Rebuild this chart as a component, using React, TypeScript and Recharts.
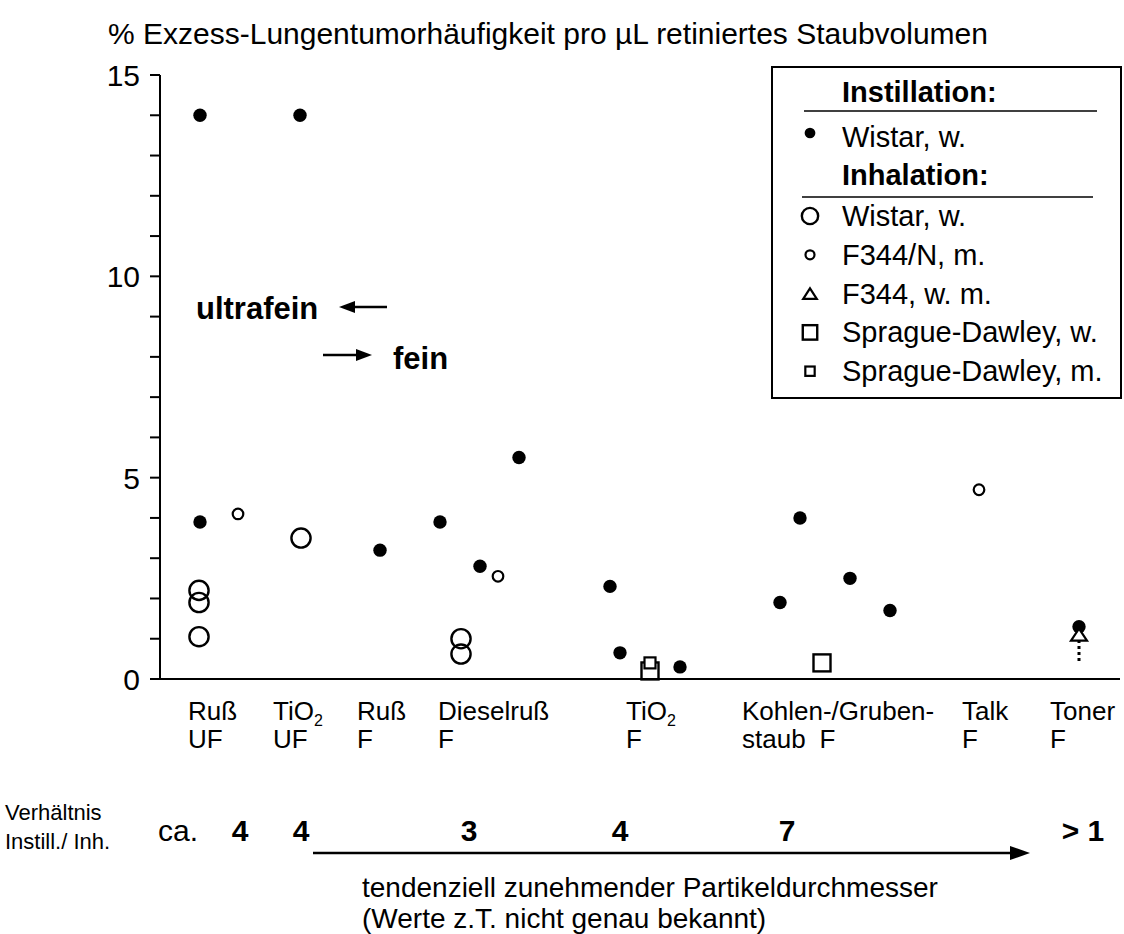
import React from "react";
import { ScatterChart, Scatter, XAxis, YAxis, ReferenceDot, ReferenceLine, Legend } from "recharts";

const FONT = '"Liberation Sans", Arial, Helvetica, sans-serif';

// x = position along the (unscaled) particle-size axis, 0..96
// y = % Exzess-Lungentumorhäufigkeit pro µL
const instillWistar = [
  { x: 4, y: 14 }, { x: 14, y: 14 }, { x: 4, y: 3.9 }, { x: 22, y: 3.2 }, { x: 28, y: 3.9 },
  { x: 32, y: 2.8 }, { x: 35.9, y: 5.5 }, { x: 45, y: 2.3 }, { x: 46, y: 0.65 }, { x: 52, y: 0.3 },
  { x: 62, y: 1.9 }, { x: 64, y: 4.0 }, { x: 69, y: 2.5 }, { x: 73, y: 1.7 }, { x: 91.9, y: 1.3 },
];
const inhalWistar = [
  { x: 3.9, y: 2.2 }, { x: 3.9, y: 1.9 }, { x: 3.9, y: 1.05 }, { x: 14.1, y: 3.5 },
  { x: 30.1, y: 1.0 }, { x: 30.1, y: 0.62 },
];
const inhalF344N = [{ x: 7.8, y: 4.1 }, { x: 33.8, y: 2.55 }, { x: 81.9, y: 4.7 }];
const inhalF344 = [{ x: 91.9, y: 1.1 }];
const sdFemale = [{ x: 49, y: 0.2 }, { x: 66.2, y: 0.4 }];
const sdMale = [{ x: 49, y: 0.4 }];

// lower-bound marker under the toner triangle
const tonerArrow = { x: 91.9, from: 0.45, to: 0.98 };

const Y_TICKS = [0, 1, 2, 3, 4, 5, 6, 7, 8, 9, 10, 11, 12, 13, 14, 15];

const categories = [
  { x: 2.8, l1: "Ruß", sub: "", l2: "UF" },
  { x: 11.3, l1: "TiO", sub: "2", l2: "UF" },
  { x: 19.7, l1: "Ruß", sub: "", l2: "F" },
  { x: 27.8, l1: "Dieselruß", sub: "", l2: "F" },
  { x: 46.6, l1: "TiO", sub: "2", l2: "F" },
  { x: 58.2, l1: "Kohlen-/Gruben-", sub: "", l2: "staub|F" },
  { x: 80.2, l1: "Talk", sub: "", l2: "F" },
  { x: 89.0, l1: "Toner", sub: "", l2: "F" },
];

const ratios = [
  { x: 8.0, v: "4", prefix: "ca." },
  { x: 14.1, v: "4", prefix: "" },
  { x: 30.9, v: "3", prefix: "" },
  { x: 46.0, v: "4", prefix: "" },
  { x: 62.7, v: "7", prefix: "" },
  { x: 92.3, v: "> 1", prefix: "" },
];

const legendRows = [
  { label: "Wistar, w.", icon: "bigRing" },
  { label: "F344/N, m.", icon: "smallRing" },
  { label: "F344, w. m.", icon: "triangle" },
  { label: "Sprague-Dawley, w.", icon: "bigSquare" },
  { label: "Sprague-Dawley, m.", icon: "smallSquare" },
];

function icon(kind: string, cx: number, cy: number, s = 1) {
  switch (kind) {
    case "dot":
      return <circle cx={cx} cy={cy} r={6.7 * s} fill="#000" />;
    case "bigRing":
      return <circle cx={cx} cy={cy} r={9.6 * s} fill="none" stroke="#000" strokeWidth={2.4} />;
    case "smallRing":
      return <circle cx={cx} cy={cy} r={5.3 * s} fill="none" stroke="#000" strokeWidth={2.2} />;
    case "triangle": {
      const w = 8 * s, h = 10 * s;
      return (
        <polygon
          points={`${cx},${cy - h / 2 - 1} ${cx + w},${cy + h / 2 + 1} ${cx - w},${cy + h / 2 + 1}`}
          fill="#fff" stroke="#000" strokeWidth={2.2} strokeLinejoin="miter"
        />
      );
    }
    case "bigSquare":
      return <rect x={cx - 8.5 * s} y={cy - 8.5 * s} width={17 * s} height={17 * s} fill="none" stroke="#000" strokeWidth={2.4} />;
    case "smallSquare":
      return <rect x={cx - 5.5 * s} y={cy - 5.5 * s} width={11 * s} height={11 * s} fill="#fff" stroke="#000" strokeWidth={2.2} />;
    default:
      return null;
  }
}

const shapeOf = (kind: string) => (p: any) => <g>{icon(kind, p.cx, p.cy)}</g>;

const YTick = ({ x, y, payload }: any) =>
  payload.value % 5 === 0 ? (
    <text x={x} y={y} dy={11} textAnchor="end" fontSize={30} fontFamily={FONT} fill="#000">
      {payload.value}
    </text>
  ) : (
    <g />
  );

const CategoryLabel = (c: (typeof categories)[number]) => (p: any) => {
  const [a, b] = c.l2.split("|");
  return (
    <g fontFamily={FONT} fontSize={26} fill="#000">
      <text x={p.cx} y={p.cy + 41}>
        {c.l1}
        {c.sub ? (
          <tspan fontSize={16} dy={6}>
            {c.sub}
          </tspan>
        ) : null}
      </text>
      <text x={p.cx} y={p.cy + 69}>
        {a}
        {b ? <tspan dx={14}>{b}</tspan> : null}
      </text>
    </g>
  );
};

const RatioLabel = (r: (typeof ratios)[number]) => (p: any) => (
  <g fontFamily={FONT} fill="#000">
    {r.prefix ? (
      <text x={p.cx - 42} y={p.cy + 162} textAnchor="end" fontSize={30}>
        {r.prefix}
      </text>
    ) : null}
    <text x={p.cx} y={p.cy + 162} textAnchor="middle" fontSize={30} fontWeight="bold">
      {r.v}
    </text>
  </g>
);

const LegendBox = () => (
  <svg width={351} height={333} style={{ display: "block", fontFamily: FONT }}>
    <rect x={1} y={1} width={349} height={331} fill="#fff" stroke="#000" strokeWidth={2} />
    <text x={71} y={36} fontSize={29} fontWeight="bold">Instillation:</text>
    <line x1={33} x2={326} y1={45} y2={45} stroke="#000" strokeWidth={1.6} />
    {icon("dot", 39, 67, 0.8)}
    <text x={71} y={81} fontSize={29}>Wistar, w.</text>
    <text x={71} y={119} fontSize={29} fontWeight="bold">Inhalation:</text>
    <line x1={31} x2={322} y1={131} y2={131} stroke="#000" strokeWidth={1.6} />
    {legendRows.map((r, i) => (
      <g key={r.label}>
        {icon(r.icon, 39, 150 + i * 38.8, 0.85)}
        <text x={71} y={160 + i * 38.8} fontSize={29}>
          {r.label}
        </text>
      </g>
    ))}
  </svg>
);

export default function App() {
  return (
    <div style={{ position: "absolute", left: 0, top: 0, width: 1124, height: 934, background: "#fff" }}>
      <ScatterChart width={1124} height={934} margin={{ top: 75, right: 4, bottom: 195, left: 100 }}>
        <XAxis
          type="number"
          dataKey="x"
          domain={[0, 96]}
          tick={false}
          tickLine={false}
          axisLine={{ stroke: "#000", strokeWidth: 2 }}
          height={60}
        />
        <YAxis
          type="number"
          dataKey="y"
          domain={[0, 15]}
          ticks={Y_TICKS}
          interval={0}
          tick={YTick}
          tickSize={10}
          tickMargin={10}
          tickLine={{ stroke: "#000", strokeWidth: 2 }}
          axisLine={{ stroke: "#000", strokeWidth: 2 }}
          width={60}
        />
        <ReferenceLine
          segment={[{ x: tonerArrow.x, y: tonerArrow.from }, { x: tonerArrow.x, y: tonerArrow.to }]}
          stroke="#000"
          strokeWidth={3}
          strokeDasharray="3 3"
        />
        <Scatter data={instillWistar} shape={shapeOf("dot")} isAnimationActive={false} />
        <Scatter data={inhalWistar} shape={shapeOf("bigRing")} isAnimationActive={false} />
        <Scatter data={inhalF344N} shape={shapeOf("smallRing")} isAnimationActive={false} />
        <Scatter data={inhalF344} shape={shapeOf("triangle")} isAnimationActive={false} />
        <Scatter data={sdFemale} shape={shapeOf("bigSquare")} isAnimationActive={false} />
        <Scatter data={sdMale} shape={shapeOf("smallSquare")} isAnimationActive={false} />
        {categories.map((c) => (
          <ReferenceDot key={"c" + c.x} x={c.x} y={0} r={0} ifOverflow="visible" shape={CategoryLabel(c)} />
        ))}
        {ratios.map((r) => (
          <ReferenceDot key={"r" + r.x} x={r.x} y={0} r={0} ifOverflow="visible" shape={RatioLabel(r)} />
        ))}
        <Legend
          layout="vertical"
          align="center"
          verticalAlign="middle"
          content={() => <LegendBox />}
          wrapperStyle={{ position: "absolute", left: 771, top: 66, width: 351, height: 333 }}
        />
      </ScatterChart>
      <svg
        width={1124}
        height={934}
        style={{ position: "absolute", left: 0, top: 0, pointerEvents: "none", fontFamily: FONT }}
      >
        <text x={108} y={44} fontSize={30}>% Exzess-Lungentumorhäufigkeit pro µL retiniertes Staubvolumen</text>
        <text x={196} y={319} fontSize={31} fontWeight="bold">ultrafein</text>
        <line x1={352} x2={387} y1={307} y2={307} stroke="#000" strokeWidth={2.5} />
        <polygon points="339,307 355,301 355,313" fill="#000" />
        <line x1={323} x2={358} y1={355} y2={355} stroke="#000" strokeWidth={2.5} />
        <polygon points="372,355 356,349 356,361" fill="#000" />
        <text x={393} y={369} fontSize={31} fontWeight="bold">fein</text>
        <text x={5} y={820} fontSize={22}>Verhältnis</text>
        <text x={5} y={849} fontSize={22}>Instill./ Inh.</text>
        <line x1={313} x2={1012} y1={853} y2={853} stroke="#000" strokeWidth={2.5} />
        <polygon points="1030,853 1010,846 1010,860" fill="#000" />
        <text x={362} y={897} fontSize={28}>tendenziell zunehmender Partikeldurchmesser</text>
        <text x={362} y={928} fontSize={28}>(Werte z.T. nicht genau bekannt)</text>
      </svg>
    </div>
  );
}
